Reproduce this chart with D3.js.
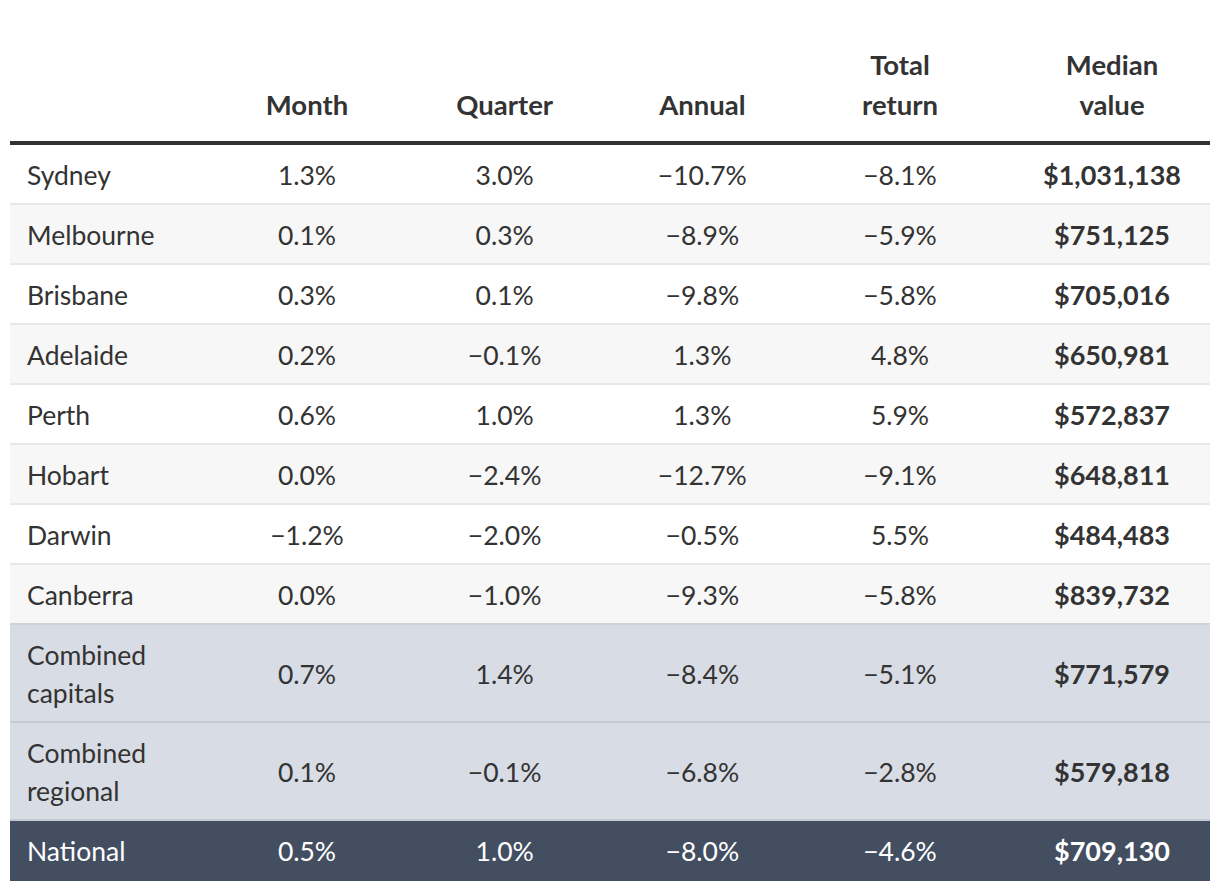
<!DOCTYPE html>
<html><head><meta charset="utf-8">
<script src="https://cdn.jsdelivr.net/npm/d3@7"></script>
<style>
body{margin:0;background:#fff;}
svg text{font-family:"Lato","Noto Sans",sans-serif;}
</style></head>
<body><svg id="chart" width="1220" height="890"></svg>
<script>
const regions = ["Sydney","Melbourne","Brisbane","Adelaide","Perth","Hobart","Darwin","Canberra","Combined capitals","Combined regional","National"];
const month = [1.3,0.1,0.3,0.2,0.6,0.0,-1.2,0.0,0.7,0.1,0.5];
const quarter = [3.0,0.3,0.1,-0.1,1.0,-2.4,-2.0,-1.0,1.4,-0.1,1.0];
const annual = [-10.7,-8.9,-9.8,1.3,1.3,-12.7,-0.5,-9.3,-8.4,-6.8,-8.0];
const totalReturn = [-8.1,-5.9,-5.8,4.8,5.9,-9.1,5.5,-5.8,-5.1,-2.8,-4.6];
const medianValue = [1031138,751125,705016,650981,572837,648811,484483,839732,771579,579818,709130];
const rowTypes = ["city","city","city","city","city","city","city","city","combined","combined","national"];
const headers = [["Month"],["Quarter"],["Annual"],["Total","return"],["Median","value"]];

const svg = d3.select("#chart");
svg.append("rect").attr("width",1220).attr("height",890).attr("fill","#fff");

const pct = d3.format(".1f");
const money = d3.format("$,");
const cols = ["Month","Quarter","Annual","Total return"];
const xCol = d3.scalePoint().domain(cols).range([307,900]);
const xMedian = 1112;
const xLabel = 27;
const left = 10, right = 1210;

// header
const hdrX = [...cols.map(c=>xCol(c)), xMedian];
headers.forEach((lines,i)=>{
  lines.forEach((l,j)=>{
    svg.append("text").attr("x",hdrX[i]).attr("y",115-(lines.length-1-j)*40)
      .attr("text-anchor","middle").attr("font-size",27.5).attr("font-weight",700)
      .attr("fill","#333").text(l);
  });
});
svg.append("rect").attr("x",left).attr("y",141).attr("width",right-left).attr("height",4).attr("fill","#333");

// rows
const heightFor = t => t==="combined" ? 98 : 60;
let y0 = 145;
const rows = regions.map((r,i)=>{
  const h = heightFor(rowTypes[i]);
  const o = {i, name:r, type:rowTypes[i], y:y0, h};
  y0 += h;
  return o;
});
const bgFor = d => d.type==="combined" ? "#d8dce4" : d.type==="national" ? "#434e61" : (d.i%2===1 ? "#f7f7f7" : "#ffffff");
const borderFor = d => d.type==="combined" ? "#c6cad3" : "#e8e8e8";
const g = svg.append("g");
rows.forEach(d=>{
  g.append("rect").attr("x",left).attr("y",d.y).attr("width",right-left).attr("height",d.h).attr("fill",bgFor(d));
  if(d.type!=="national"){
    g.append("rect").attr("x",left).attr("y",d.y+d.h-2).attr("width",right-left).attr("height",2)
      .attr("fill", (d.i===7) ? "#cfd2d8" : borderFor(d));
  }
  const cy = d.y + d.h/2 + 1;
  const col = d.type==="national" ? "#ffffff" : "#333";
  const words = d.type==="combined" ? d.name.split(" ") : [d.name];
  words.forEach((w,j)=>{
    g.append("text").attr("x",xLabel).attr("y",cy + (j-(words.length-1)/2)*38)
      .attr("dy","0.35em").attr("font-size",26.5).attr("fill",col).text(w);
  });
  const vals = [month[d.i],quarter[d.i],annual[d.i],totalReturn[d.i]];
  vals.forEach((v,k)=>{
    g.append("text").attr("x",xCol(cols[k])).attr("y",cy).attr("dy","0.35em")
      .attr("text-anchor","middle").attr("font-size",26.5).attr("fill",col).text(pct(v)+"%");
  });
  g.append("text").attr("x",xMedian).attr("y",cy).attr("dy","0.35em")
    .attr("text-anchor","middle").attr("font-size",27).attr("font-weight",700).attr("fill",col)
    .text(money(medianValue[d.i]));
});
</script></body></html>
